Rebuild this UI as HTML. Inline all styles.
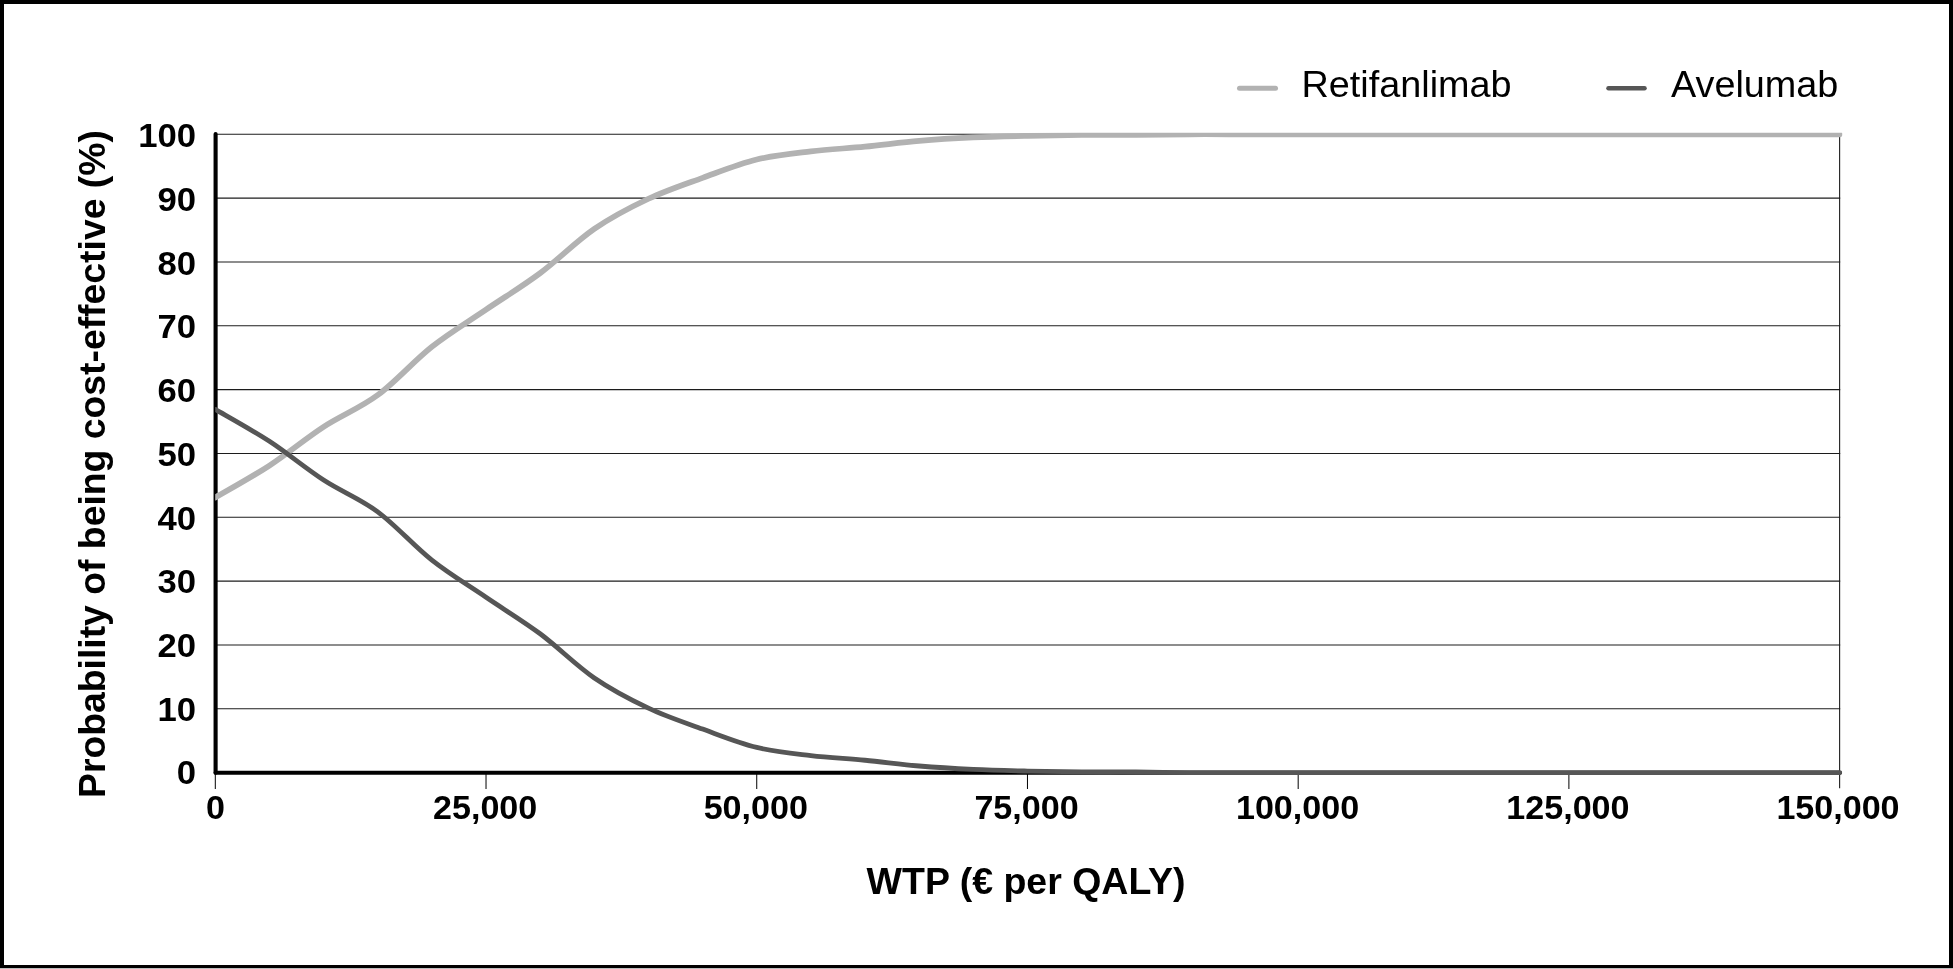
<!DOCTYPE html>
<html><head><meta charset="utf-8"><title>Cost-effectiveness acceptability curve</title>
<style>
html,body{margin:0;padding:0;background:#fff;}
body{width:1953px;height:969px;overflow:hidden;position:relative;}
svg{position:absolute;left:0;top:0;display:block;}
svg{will-change:transform;}
text{font-family:"Liberation Sans",Arial,Helvetica,sans-serif;}
.b{font-weight:bold;}
</style></head>
<body>
<svg width="1953" height="969" viewBox="0 0 1953 969">
<defs><clipPath id="pa"><rect x="215.2" y="132.8" width="1627.3" height="650"/></clipPath></defs>
<rect x="0" y="0" width="1953" height="969" fill="#fff"/>
<rect x="0" y="0" width="1953" height="4" fill="#000"/>
<rect x="0" y="0" width="4" height="968" fill="#000"/>
<rect x="1949" y="0" width="4" height="968" fill="#000"/>
<rect x="0" y="965" width="1953" height="3" fill="#000"/>
<rect x="0" y="968" width="1953" height="1" fill="#bdbdbd"/>
<g stroke="#1c1c1c" stroke-width="1.1" fill="none">
<line x1="216" y1="134.30" x2="1840.2" y2="134.30"/>
<line x1="216" y1="198.13" x2="1840.2" y2="198.13"/>
<line x1="216" y1="261.96" x2="1840.2" y2="261.96"/>
<line x1="216" y1="325.79" x2="1840.2" y2="325.79"/>
<line x1="216" y1="389.62" x2="1840.2" y2="389.62"/>
<line x1="216" y1="453.45" x2="1840.2" y2="453.45"/>
<line x1="216" y1="517.28" x2="1840.2" y2="517.28"/>
<line x1="216" y1="581.11" x2="1840.2" y2="581.11"/>
<line x1="216" y1="644.94" x2="1840.2" y2="644.94"/>
<line x1="216" y1="708.77" x2="1840.2" y2="708.77"/>
<line x1="1839.62" y1="134.30" x2="1839.62" y2="788.3"/>
</g>
<g stroke="#000" stroke-width="1.0">
<line x1="215.30" y1="774" x2="215.30" y2="789"/>
<line x1="486.02" y1="774" x2="486.02" y2="789"/>
<line x1="756.74" y1="774" x2="756.74" y2="789"/>
<line x1="1027.46" y1="774" x2="1027.46" y2="789"/>
<line x1="1298.18" y1="774" x2="1298.18" y2="789"/>
<line x1="1568.90" y1="774" x2="1568.90" y2="789"/>
</g>
<g stroke="#000" stroke-width="4.1" stroke-linecap="round">
<line x1="215.6" y1="134" x2="215.6" y2="772.8"/>
<line x1="215.6" y1="772.8" x2="1840" y2="772.8"/>
</g>
<g class="b" font-size="33" text-anchor="end" fill="#000">
<text transform="translate(196.0,147.2) scale(1.05,1)">100</text>
<text transform="translate(196.0,210.9) scale(1.05,1)">90</text>
<text transform="translate(196.0,274.6) scale(1.05,1)">80</text>
<text transform="translate(196.0,338.4) scale(1.05,1)">70</text>
<text transform="translate(196.0,402.1) scale(1.05,1)">60</text>
<text transform="translate(196.0,465.8) scale(1.05,1)">50</text>
<text transform="translate(196.0,529.5) scale(1.05,1)">40</text>
<text transform="translate(196.0,593.2) scale(1.05,1)">30</text>
<text transform="translate(196.0,657.0) scale(1.05,1)">20</text>
<text transform="translate(196.0,720.7) scale(1.05,1)">10</text>
<text transform="translate(196.0,784.4) scale(1.05,1)">0</text>
</g>
<g class="b" font-size="33" text-anchor="middle" fill="#000">
<text transform="translate(215.45,819.0) scale(1.033,1)">0</text>
<text transform="translate(485.15,819.0) scale(1.033,1)">25,000</text>
<text transform="translate(755.75,819.0) scale(1.033,1)">50,000</text>
<text transform="translate(1026.50,819.0) scale(1.033,1)">75,000</text>
<text transform="translate(1297.55,819.0) scale(1.033,1)">100,000</text>
<text transform="translate(1567.90,819.0) scale(1.033,1)">125,000</text>
<text transform="translate(1838.00,819.0) scale(1.033,1)">150,000</text>
</g>
<text class="b" x="1026" y="894" font-size="37.5" text-anchor="middle">WTP (€ per QALY)</text>
<text class="b" transform="translate(105,464.1) rotate(-90)" font-size="37.35" text-anchor="middle">Probability of being cost-effective (%)</text>
<line x1="1239.5" y1="88.2" x2="1275.5" y2="88.2" stroke="#b2b2b2" stroke-width="5" stroke-linecap="round"/>
<text x="1301.5" y="97.3" font-size="37.8">Retifanlimab</text>
<line x1="1608.5" y1="88.2" x2="1644.5" y2="88.2" stroke="#565656" stroke-width="4.5" stroke-linecap="round"/>
<text x="1671" y="97.3" font-size="37.8">Avelumab</text>
<g clip-path="url(#pa)" fill="none" stroke-linejoin="round" stroke-linecap="round">
<path d="M215.30,497.50 C224.32,492.18 251.40,477.33 269.44,465.56 C287.49,453.79 305.54,438.60 323.59,426.85 C341.64,415.10 359.68,408.41 377.73,395.06 C395.78,381.71 413.83,360.97 431.88,346.73 C449.92,332.49 467.97,321.87 486.02,309.60 C504.07,297.33 522.12,286.57 540.16,273.13 C558.21,259.69 576.26,241.32 594.31,228.93 C612.36,216.54 630.40,207.30 648.45,198.78 C666.50,190.26 684.55,184.37 702.60,177.82 C720.64,171.27 738.69,163.89 756.74,159.48 C774.79,155.06 792.84,153.47 810.88,151.33 C828.93,149.19 846.98,148.39 865.03,146.65 C883.08,144.91 901.12,142.43 919.17,140.90 C937.22,139.37 955.27,138.32 973.32,137.47 C991.36,136.62 1009.41,136.23 1027.46,135.81 C1045.51,135.39 1063.56,135.11 1081.60,134.96 C1099.65,134.81 1117.70,135.01 1135.75,134.90 C1153.80,134.79 1171.84,134.40 1189.89,134.30 C1207.94,134.20 1225.99,134.30 1244.04,134.30 C1262.08,134.30 1280.13,134.30 1298.18,134.30 C1316.23,134.30 1334.28,134.30 1352.32,134.30 C1370.37,134.30 1388.42,134.30 1406.47,134.30 C1424.52,134.30 1442.56,134.30 1460.61,134.30 C1478.66,134.30 1496.71,134.30 1514.76,134.30 C1532.80,134.30 1550.85,134.30 1568.90,134.30 C1586.95,134.30 1605.00,134.30 1623.04,134.30 C1641.09,134.30 1659.14,134.30 1677.19,134.30 C1695.24,134.30 1713.28,134.30 1731.33,134.30 C1749.38,134.30 1767.43,134.30 1785.48,134.30 C1803.52,134.30 1830.60,134.30 1839.62,134.30 L1839.6,134.30" stroke="#b2b2b2" stroke-width="5.7"/>
<path d="M215.30,409.40 C224.32,414.72 251.40,429.56 269.44,441.34 C287.49,453.11 305.54,468.30 323.59,480.05 C341.64,491.80 359.68,498.49 377.73,511.84 C395.78,525.19 413.83,545.93 431.88,560.17 C449.92,574.41 467.97,585.03 486.02,597.30 C504.07,609.57 522.12,620.32 540.16,633.77 C558.21,647.22 576.26,665.58 594.31,677.97 C612.36,690.36 630.40,699.60 648.45,708.12 C666.50,716.64 684.55,722.53 702.60,729.08 C720.64,735.63 738.69,743.00 756.74,747.42 C774.79,751.83 792.84,753.43 810.88,755.57 C828.93,757.71 846.98,758.51 865.03,760.25 C883.08,761.99 901.12,764.47 919.17,766.00 C937.22,767.53 955.27,768.58 973.32,769.43 C991.36,770.28 1009.41,770.67 1027.46,771.09 C1045.51,771.51 1063.56,771.79 1081.60,771.94 C1099.65,772.09 1117.70,771.89 1135.75,772.00 C1153.80,772.11 1171.84,772.50 1189.89,772.60 C1207.94,772.70 1225.99,772.60 1244.04,772.60 C1262.08,772.60 1280.13,772.60 1298.18,772.60 C1316.23,772.60 1334.28,772.60 1352.32,772.60 C1370.37,772.60 1388.42,772.60 1406.47,772.60 C1424.52,772.60 1442.56,772.60 1460.61,772.60 C1478.66,772.60 1496.71,772.60 1514.76,772.60 C1532.80,772.60 1550.85,772.60 1568.90,772.60 C1586.95,772.60 1605.00,772.60 1623.04,772.60 C1641.09,772.60 1659.14,772.60 1677.19,772.60 C1695.24,772.60 1713.28,772.60 1731.33,772.60 C1749.38,772.60 1767.43,772.60 1785.48,772.60 C1803.52,772.60 1830.60,772.60 1839.62,772.60 L1839.6,772.60" stroke="#565656" stroke-width="4.8"/>
</g>
</svg>
</body></html>
